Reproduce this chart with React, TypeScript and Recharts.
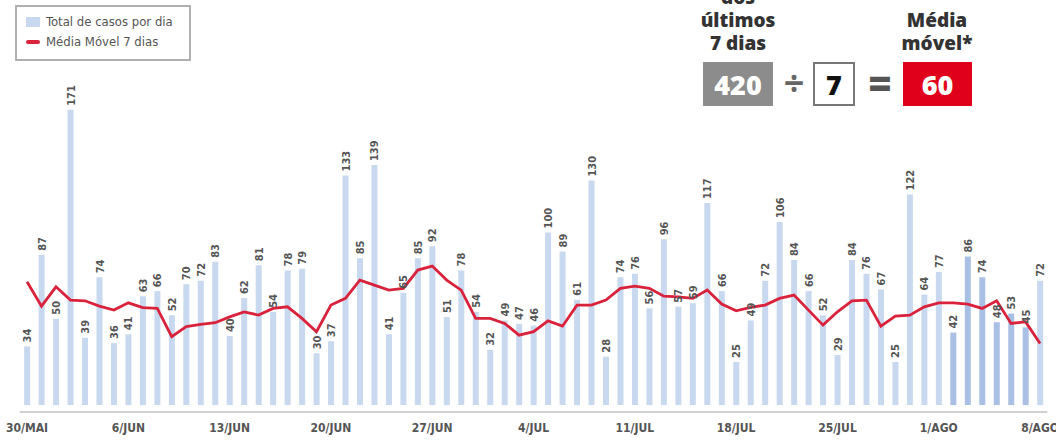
import { ComposedChart, Bar, Line, XAxis, YAxis, Cell, LabelList } from "recharts";

const days = [
  "30/MAI", "31/MAI",
  "1/JUN", "2/JUN", "3/JUN", "4/JUN", "5/JUN", "6/JUN", "7/JUN", "8/JUN", "9/JUN", "10/JUN",
  "11/JUN", "12/JUN", "13/JUN", "14/JUN", "15/JUN", "16/JUN", "17/JUN", "18/JUN", "19/JUN", "20/JUN",
  "21/JUN", "22/JUN", "23/JUN", "24/JUN", "25/JUN", "26/JUN", "27/JUN", "28/JUN", "29/JUN", "30/JUN",
  "1/JUL", "2/JUL", "3/JUL", "4/JUL", "5/JUL", "6/JUL", "7/JUL", "8/JUL", "9/JUL", "10/JUL",
  "11/JUL", "12/JUL", "13/JUL", "14/JUL", "15/JUL", "16/JUL", "17/JUL", "18/JUL", "19/JUL", "20/JUL",
  "21/JUL", "22/JUL", "23/JUL", "24/JUL", "25/JUL", "26/JUL", "27/JUL", "28/JUL", "29/JUL", "30/JUL",
  "31/JUL",
  "1/AGO", "2/AGO", "3/AGO", "4/AGO", "5/AGO", "6/AGO", "7/AGO", "8/AGO",
];

const casos = [
  34, 87, 50, 171, 39, 74, 36, 41, 63, 66,
  52, 70, 72, 83, 40, 62, 81, 54, 78, 79,
  30, 37, 133, 85, 139, 41, 65, 85, 92, 51,
  78, 54, 32, 49, 47, 46, 100, 89, 61, 130,
  28, 74, 76, 56, 96, 57, 59, 117, 66, 25,
  49, 72, 106, 84, 66, 52, 29, 84, 76, 67,
  25, 122, 64, 77, 42, 86, 74, 48, 53, 45,
  72,
];

const mediaMovel = [
  71.4, 57.3, 68.5, 60.8, 60.4, 57.3, 55, 59.2, 56.4, 56,
  39.6, 45.4, 46.7, 47.7, 51.1, 54, 52.1, 56, 56.9, 50.2,
  42.5, 57.9, 61.8, 72.4, 69.5, 66.6, 67.6, 78.2, 80.5, 72.4,
  66.6, 50.2, 50.2, 47.3, 40.5, 42.5, 48.8, 45.7, 57.9, 57.9,
  60.8, 67.6, 68.9, 67.6, 63.1, 62.7, 61.8, 66.6, 58.5, 54.6,
  56.6, 57.9, 61.8, 63.7, 55, 46.3, 54, 60.4, 60.8, 45.7,
  51.5, 52.1, 56.9, 59.2, 59.2, 58.5, 56, 60.4, 47.3, 48.2,
  35.7,
];

const tickLabels = ["30/MAI", "6/JUN", "13/JUN", "20/JUN", "27/JUN", "4/JUL", "11/JUL", "18/JUL", "25/JUL", "1/AGO", "8/AGO"];

const data = days.map((day, i) => ({ day, casos: casos[i], media: mediaMovel[i] }));

// the last days are drawn a bit darker
const darkFrom = 64;
const darkTo = 69;

const narrow = "'Liberation Sans Narrow', 'DejaVu Sans Condensed', 'Roboto Condensed', sans-serif";
const bold = "'Open Sans', 'Noto Sans', sans-serif";

const ValueLabel = (props: any) => {
  const { x, y, width, value } = props;
  const cx = x + width / 2 + 4;
  const cy = y - 4;
  return (
    <text
      x={cx}
      y={cy}
      transform={`rotate(-90 ${cx} ${cy})`}
      textAnchor="start"
      fontSize={11}
      fontWeight={700}
      fontFamily={narrow}
      fill="#555"
    >
      {value}
    </text>
  );
};

export default function App() {
  return (
    <div style={{ position: "absolute", left: 0, top: 0, width: 1056, height: 442, background: "#fff" }}>
      <ComposedChart
        width={1056}
        height={442}
        data={data}
        margin={{ top: 59.7, right: 8.7, left: 19.8, bottom: 0 }}
        barCategoryGap="30%"
      >
        <XAxis
          dataKey="day"
          ticks={tickLabels}
          interval={0}
          height={30}
          tickLine={false}
          tickMargin={5}
          axisLine={{ stroke: "#d0d0d0", strokeWidth: 2 }}
          tick={{ fontSize: 12, fontWeight: 700, fill: "#555", fontFamily: narrow }}
        />
        <YAxis hide domain={[-4, 200]} />
        <Bar dataKey="casos" isAnimationActive={false}>
          {data.map((d, i) => (
            <Cell key={d.day} fill={i >= darkFrom && i <= darkTo ? "#a9c0e4" : "#c8d8ef"} />
          ))}
          <LabelList dataKey="casos" content={<ValueLabel />} />
        </Bar>
        <Line
          type="linear"
          dataKey="media"
          stroke="#d9223b"
          strokeWidth={2.8}
          dot={false}
          isAnimationActive={false}
        />
      </ComposedChart>

      {/* Legend */}
      <div
        style={{
          position: "absolute",
          left: 15,
          top: 5,
          width: 172,
          height: 52,
          border: "2px solid #b0b0b0",
          fontFamily: narrow,
          fontSize: 13,
          color: "#555",
        }}
      >
        <div style={{ display: "flex", alignItems: "center", marginTop: 7, marginLeft: 9, lineHeight: "16px" }}>
          <span style={{ width: 14, height: 10, background: "#c8d8ef", display: "inline-block", marginRight: 6 }} />
          Total de casos por dia
        </div>
        <div style={{ display: "flex", alignItems: "center", marginTop: 4, marginLeft: 9, lineHeight: "16px" }}>
          <span style={{ width: 14, height: 4, borderRadius: 2, background: "#d9223b", display: "inline-block", marginRight: 6 }} />
          Média Móvel 7 dias
        </div>
      </div>

      {/* Formula */}
      <div
        style={{
          position: "absolute",
          left: 678,
          top: -14,
          width: 120,
          textAlign: "center",
          fontFamily: bold,
          fontWeight: 800,
          fontSize: 19,
          lineHeight: "23px",
          color: "#333",
        }}
      >
        <div>dos</div>
        <div>últimos</div>
        <div>7 dias</div>
      </div>
      <div
        style={{
          position: "absolute",
          left: 877,
          top: 9,
          width: 120,
          textAlign: "center",
          fontFamily: bold,
          fontWeight: 800,
          fontSize: 19,
          lineHeight: "23px",
          color: "#333",
        }}
      >
        <div>Média</div>
        <div>móvel*</div>
      </div>
      <div
        style={{
          position: "absolute",
          left: 703,
          top: 62,
          width: 70,
          height: 44,
          background: "#8c8c8c",
          color: "#fff",
          fontFamily: bold,
          fontWeight: 800,
          fontSize: 27,
          display: "flex",
          alignItems: "center",
          justifyContent: "center",
        }}
      >
        420
      </div>
      <div
        style={{
          position: "absolute",
          left: 778,
          top: 58,
          width: 32,
          height: 48,
          color: "#666",
          fontFamily: bold,
          fontWeight: 700,
          fontSize: 36,
          display: "flex",
          alignItems: "center",
          justifyContent: "center",
        }}
      >
        ÷
      </div>
      <div
        style={{
          position: "absolute",
          left: 813,
          top: 62,
          width: 38,
          height: 40,
          border: "2px solid #777",
          background: "#fff",
          color: "#111",
          fontFamily: bold,
          fontWeight: 800,
          fontSize: 27,
          display: "flex",
          alignItems: "center",
          justifyContent: "center",
        }}
      >
        7
      </div>
      <div
        style={{
          position: "absolute",
          left: 864,
          top: 58,
          width: 32,
          height: 48,
          color: "#555",
          fontFamily: bold,
          fontWeight: 800,
          fontSize: 40,
          display: "flex",
          alignItems: "center",
          justifyContent: "center",
        }}
      >
        =
      </div>
      <div
        style={{
          position: "absolute",
          left: 903,
          top: 62,
          width: 69,
          height: 44,
          background: "#e1001b",
          color: "#fff",
          fontFamily: bold,
          fontWeight: 800,
          fontSize: 27,
          display: "flex",
          alignItems: "center",
          justifyContent: "center",
        }}
      >
        60
      </div>
    </div>
  );
}
